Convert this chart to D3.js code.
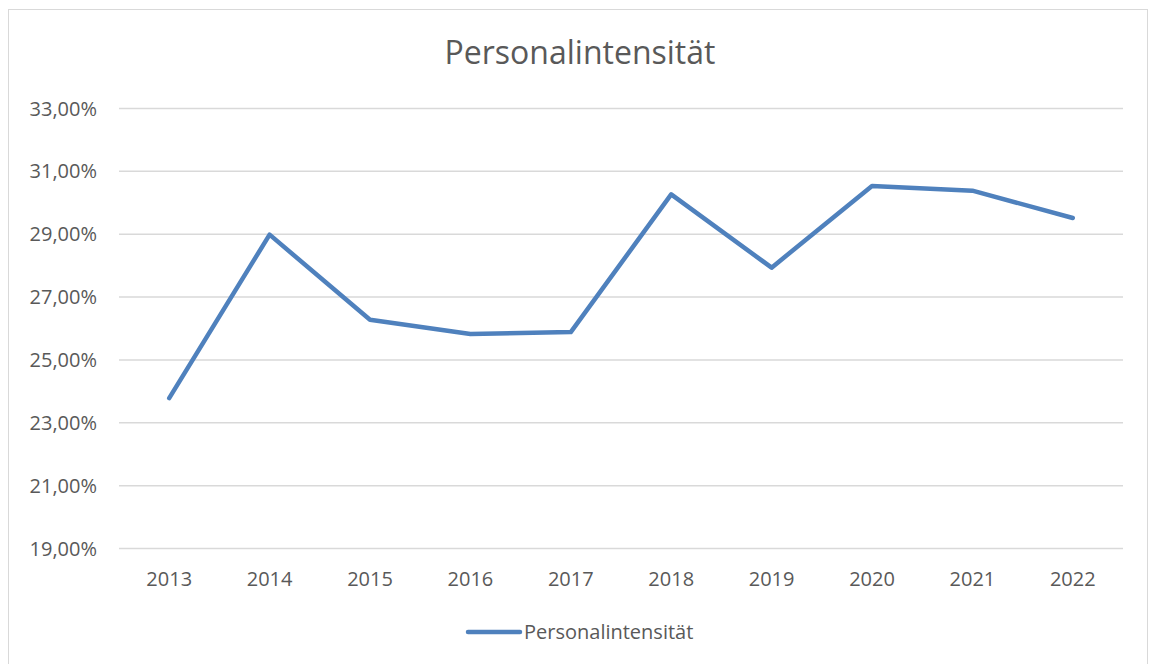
<!DOCTYPE html>
<html><head><meta charset="utf-8">
<script src="https://cdn.jsdelivr.net/npm/d3@7"></script>
<style>body{margin:0;background:#fff;} svg{display:block;}</style>
</head><body>
<svg id="c" width="1149" height="664"></svg>
<script>
const years = ["2013","2014","2015","2016","2017","2018","2019","2020","2021","2022"];
const values = [23.77, 28.97, 26.26, 25.81, 25.87, 30.25, 27.92, 30.52, 30.37, 29.50];
const yTicks = [19, 21, 23, 25, 27, 29, 31, 33];
const seriesName = "Personalintensität";
const titleText = "Personalintensität";

const svg = d3.select("#c");
const font = "'Open Sans', 'Liberation Sans', sans-serif";
const txt = "#595959";

svg.append("rect").attr("x", 8.5).attr("y", 9.5).attr("width", 1139).attr("height", 670)
  .attr("fill", "#fff").attr("stroke", "#d9d9d9").attr("stroke-width", 1);

const x = d3.scaleBand().domain(years).range([119, 1123]);
const y = d3.scaleLinear().domain([19, 33]).range([548, 108]);

svg.append("text").attr("x", 580).attr("y", 64).attr("text-anchor", "middle")
  .attr("font-family", font).attr("font-size", 32).attr("fill", txt).text(titleText);

const yAxis = d3.axisLeft(y).tickValues(yTicks).tickSize(-(1123 - 119))
  .tickFormat(d => d3.format(".2f")(d).replace(".", ",") + "%");
const gy = svg.append("g").attr("transform", "translate(119,0)").call(yAxis);
gy.select(".domain").remove();
gy.selectAll(".tick line").attr("stroke", "#d9d9d9").attr("stroke-width", 1.5);
gy.selectAll(".tick text").attr("x", -22).attr("dy", "0.35em").attr("font-family", font).attr("font-size", 20).attr("fill", txt);

const xAxis = d3.axisBottom(x).tickSize(0);
const gx = svg.append("g").attr("transform", "translate(0,548)").call(xAxis);
gx.select(".domain").remove();
gx.selectAll(".tick text").attr("dy", 0).attr("y", 38).attr("font-family", font).attr("font-size", 20).attr("fill", txt);

const line = d3.line().x((d, i) => x(years[i]) + x.bandwidth() / 2).y(d => y(d));
svg.append("path").datum(values).attr("d", line).attr("fill", "none")
  .attr("stroke", "#4f81bd").attr("stroke-width", 4.5).attr("stroke-linecap", "round").attr("stroke-linejoin", "round");

const lg = svg.append("g");
lg.append("line").attr("x1", 468).attr("x2", 520).attr("y1", 632).attr("y2", 632)
  .attr("stroke", "#4f81bd").attr("stroke-width", 4.5).attr("stroke-linecap", "round");
lg.append("text").attr("x", 524).attr("y", 639).attr("font-family", font).attr("font-size", 20).attr("fill", txt).text(seriesName);
</script>
</body></html>
